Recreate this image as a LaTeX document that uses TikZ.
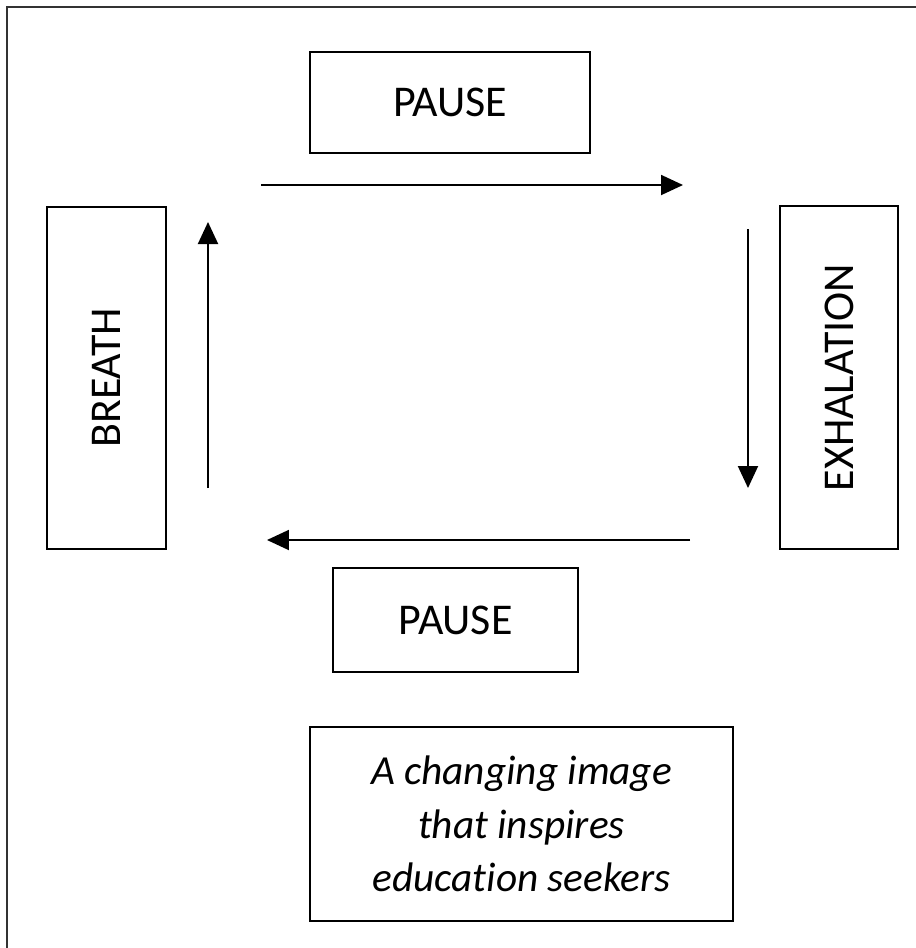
\documentclass[tikz,border=0pt]{standalone}
\usepackage{fontspec}
\setmainfont{Carlito}[Ligatures=NoCommon]
\usetikzlibrary{arrows.meta}

\begin{document}
\begin{tikzpicture}[
      x=0.02cm, y=-0.02cm,
      every node/.style={font=\fontsize{25}{29}\selectfont},
      phasebox/.style={draw, line width=0.8pt, align=center, inner sep=0pt},
      notebox/.style={draw, line width=0.8pt, align=center, inner sep=0pt, font=\fontsize{23.5}{30.6}\selectfont\itshape},
      arrow/.style={-{Triangle[length=0.44cm, width=0.4cm]}, line width=1.1pt}
  ]
    % page and cropped frame
    \useasboundingbox (0,0) rectangle (916,948);
    \clip (0,0) rectangle (916,948);
    \draw[line width=1.2pt, black!80] (7,7) rectangle (960,990);

    \node[phasebox, minimum width=5.6cm, minimum height=2.02cm] (pausetop) at (450,102.5) {PAUSE};
    \node[phasebox, rotate=90, minimum width=6.84cm, minimum height=2.38cm] (breath) at (106.5,378) {BREATH};
    \node[phasebox, rotate=90, minimum width=6.86cm, minimum height=2.36cm] (exhal) at (839,377.5) {EXHALATION};
    \node[phasebox, minimum width=4.9cm, minimum height=2.08cm] (pausebot) at (455.5,620) {PAUSE};
    \node[notebox, minimum width=8.46cm, minimum height=3.88cm] (note) at (521.5,824) {A changing image\\that inspires\\education seekers};

    % arrow ends
    \coordinate (in-a) at (208,488);
    \coordinate (in-b) at (208,222);
    \coordinate (hold-a) at (261,185);
    \coordinate (hold-b) at (683,185);
    \coordinate (out-a) at (748,229);
    \coordinate (out-b) at (748,488);
    \coordinate (rest-a) at (690,540);
    \coordinate (rest-b) at (267,540);

    \draw[arrow] (in-a) -- (in-b);
    \draw[arrow] (hold-a) -- (hold-b);
    \draw[arrow] (out-a) -- (out-b);
    \draw[arrow] (rest-a) -- (rest-b);
  \end{tikzpicture}
\end{document}
